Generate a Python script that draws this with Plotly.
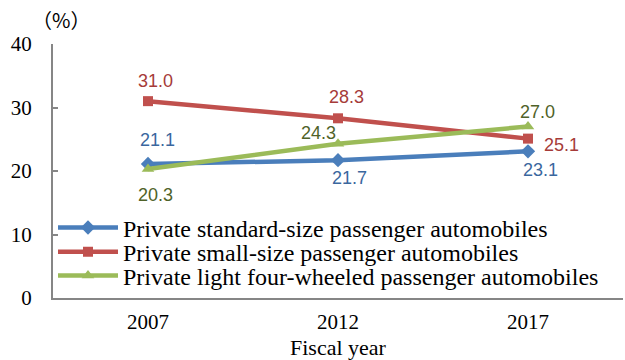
import plotly.graph_objects as go

years = ["2007", "2012", "2017"]
standard = [21.1, 21.7, 23.1]
small = [31.0, 28.3, 25.1]
light = [20.3, 24.3, 27.0]
names = ["Private standard-size passenger automobiles",
         "Private small-size passenger automobiles",
         "Private light four-wheeled passenger automobiles"]
y_ticks = [0, 10, 20, 30, 40]

series = [
    dict(vals=standard, name=names[0], color="#4A7EBB", text_color="#3A679E",
         symbol="diamond", size=11, legend="legend",
         offsets=[(9, 24), (11, -18), (12, -19)]),
    dict(vals=small, name=names[1], color="#C0504D", text_color="#A63B39",
         symbol="square", size=10, legend="legend2",
         offsets=[(7, 20), (8, 21), (33, -6)]),
    dict(vals=light, name=names[2], color="#9BBB59", text_color="#4F6228",
         symbol="triangle-up", size=11, legend="legend3",
         offsets=[(7, -26), (-20, 11), (9, 15)]),
]

fig = go.Figure()
annotations = []
for s in series:
    fig.add_trace(go.Scatter(
        x=years, y=s["vals"], name=s["name"], mode="lines+markers",
        legend=s["legend"],
        line=dict(color=s["color"], width=4.5),
        marker=dict(symbol=s["symbol"], size=s["size"], color=s["color"],
                    line=dict(width=0))))
    for i, (yv, (dx, dy)) in enumerate(zip(s["vals"], s["offsets"])):
        annotations.append(dict(
            x=i, y=yv, xref="x", yref="y", text=f"{yv:.1f}", showarrow=False,
            xshift=dx, yshift=dy, xanchor="center", yanchor="middle",
            font=dict(family="Liberation Sans, Arial", size=18, color=s["text_color"])))

annotations.append(dict(text="（%）", xref="paper", yref="paper", x=0.014, y=1.098,
                        xanchor="center", yanchor="middle", showarrow=False,
                        font=dict(size=20, family="Noto Sans CJK JP", color="#000000")))
annotations.append(dict(text="Fiscal year", xref="paper", yref="paper", x=0.5, y=-0.193,
                        xanchor="center", yanchor="middle", showarrow=False,
                        font=dict(size=22, family="Liberation Serif, Times New Roman",
                                  color="#000000")))

legend_common = dict(x=0.0, xanchor="left", yanchor="middle", bgcolor="rgba(0,0,0,0)",
                     font=dict(size=24, family="Liberation Serif, Times New Roman",
                               color="#000000"),
                     itemwidth=60, borderwidth=0)

fig.update_layout(
    width=625, height=360,
    margin=dict(l=53, r=2, t=44, b=62),
    paper_bgcolor="white", plot_bgcolor="white",
    font=dict(family="Liberation Serif, Times New Roman", size=21, color="#000000"),
    showlegend=True,
    legend=dict(y=0.276, **legend_common),
    legend2=dict(y=0.181, **legend_common),
    legend3=dict(y=0.087, **legend_common),
    xaxis=dict(type="category", range=[-0.5, 2.5], showline=True, linecolor="#868686",
               linewidth=2, ticks="", showgrid=False, zeroline=False,
               tickfont=dict(size=21), ticklabelstandoff=4),
    yaxis=dict(range=[0, 40], tickvals=y_ticks, showline=True, linecolor="#868686",
               linewidth=2, ticks="inside", ticklen=5, tickcolor="#868686", tickwidth=1.5,
               showgrid=False, zeroline=False, tickfont=dict(size=21),
               ticklabelstandoff=15),
    annotations=annotations,
)
fig.write_html("out.html")
